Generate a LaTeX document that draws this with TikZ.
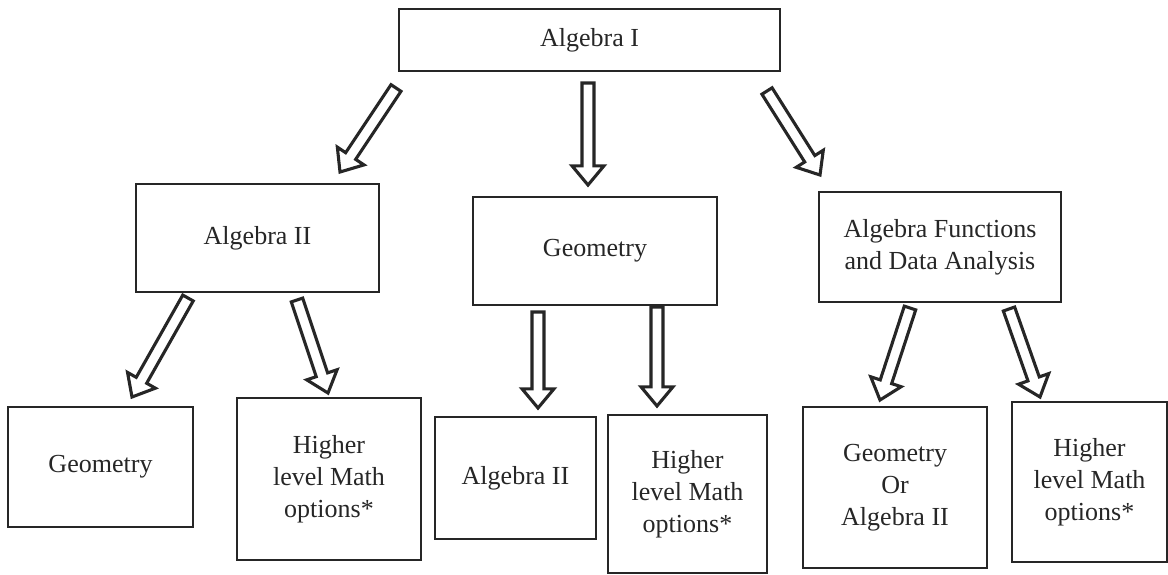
\documentclass[tikz,border=0pt]{standalone}
\usepackage{fontspec}
\setmainfont{Liberation Serif}
\usepackage{tikz}
\usetikzlibrary{calc}
\definecolor{inkline}{HTML}{262626}

% hollow block arrow from a tail coordinate to a tip coordinate
\newcommand{\hollowarrow}[2]{%
  \coordinate (hb) at ($(#2)!0.48cm!(#1)$);
  \draw[blockarrow] ($(#1)!0.15cm!90:(#2)$) -- ($(hb)!0.15cm!90:(#2)$)
    -- ($(hb)!0.4cm!90:(#2)$) -- (#2) -- ($(hb)!0.4cm!-90:(#2)$)
    -- ($(hb)!0.15cm!-90:(#2)$) -- ($(#1)!0.15cm!-90:(#2)$) -- cycle;
}

\begin{document}
\begin{tikzpicture}[x=0.025cm, y=-0.025cm,
    box/.style={draw=inkline, line width=1.3pt, align=center, inner sep=2pt,
      font=\fontsize{18.5}{22.7}\selectfont, text=inkline},
    blockarrow/.style={draw=inkline, line width=2.2pt, fill=white, line join=miter}]
    \useasboundingbox (0,0) rectangle (1168,574);

    % top row
    \node[box, minimum width=9.525cm, minimum height=1.55cm] (alg1) at (589.5, 40) {Algebra I};

    % middle row
    \node[box, minimum width=6.075cm, minimum height=2.7cm] (alg2) at (257.5, 238) {Algebra II};
    \node[box, minimum width=6.1cm, minimum height=2.7cm] (geo) at (595, 251) {Geometry};
    \node[box, minimum width=6.05cm, minimum height=2.75cm] (afda) at (940, 247) {Algebra Functions\\and Data Analysis};

    % bottom row
    \node[box, minimum width=4.625cm, minimum height=3cm] (geoA) at (100.5, 467) {Geometry};
    \node[box, minimum width=4.6cm, minimum height=4.05cm] (highA) at (329, 479) {Higher\\level Math\\options*};
    \node[box, minimum width=4.025cm, minimum height=3.05cm] (algB) at (515.5, 478) {Algebra II};
    \node[box, minimum width=3.975cm, minimum height=3.95cm] (highB) at (687.5, 494) {Higher\\level Math\\options*};
    \node[box, minimum width=4.6cm, minimum height=4.025cm] (geoalgC) at (895, 487.5) {Geometry\\Or\\Algebra II};
    \node[box, minimum width=3.875cm, minimum height=4cm] (highC) at (1089.5, 482) {Higher\\level Math\\options*};

    % arrow ends
    \coordinate (t1) at (396, 88);   \coordinate (h1) at (340, 172);
    \coordinate (t2) at (588, 83);   \coordinate (h2) at (588, 185);
    \coordinate (t3) at (767, 91);   \coordinate (h3) at (820, 175);
    \coordinate (t4) at (188, 298);  \coordinate (h4) at (132, 397);
    \coordinate (t5) at (297, 300);  \coordinate (h5) at (328, 393);
    \coordinate (t6) at (538, 312);  \coordinate (h6) at (538, 408);
    \coordinate (t7) at (657, 307);  \coordinate (h7) at (657, 406);
    \coordinate (t8) at (910, 308);  \coordinate (h8) at (880, 400);
    \coordinate (t9) at (1009, 309); \coordinate (h9) at (1040, 397);

    \hollowarrow{t1}{h1}
    \hollowarrow{t2}{h2}
    \hollowarrow{t3}{h3}
    \hollowarrow{t4}{h4}
    \hollowarrow{t5}{h5}
    \hollowarrow{t6}{h6}
    \hollowarrow{t7}{h7}
    \hollowarrow{t8}{h8}
    \hollowarrow{t9}{h9}
  \end{tikzpicture}
\end{document}
